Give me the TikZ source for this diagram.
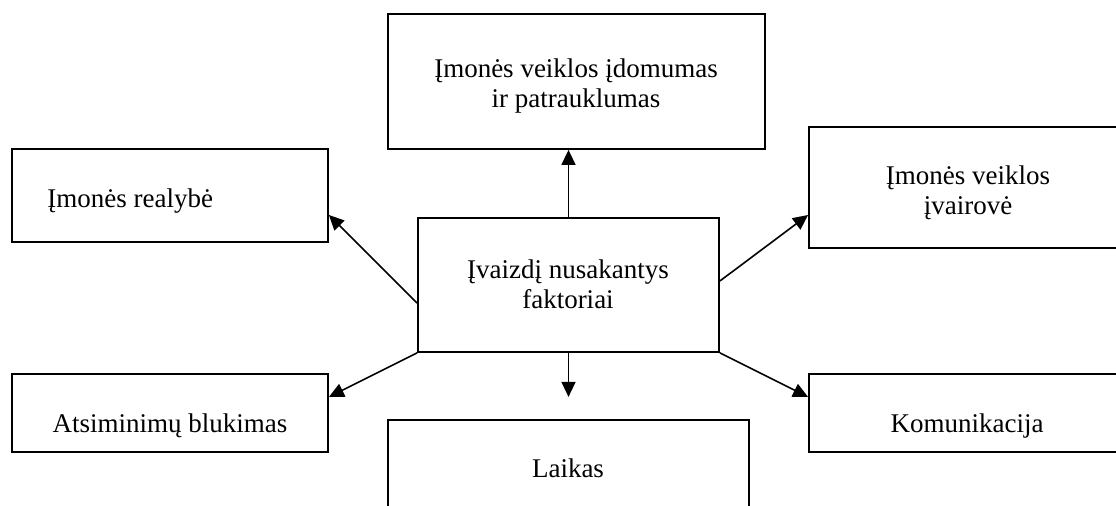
\documentclass[tikz,border=0pt]{standalone}
\usepackage{fontspec}
\setmainfont{Liberation Serif}
\usetikzlibrary{arrows.meta}

\begin{document}
\begin{tikzpicture}[x=0.5pt, y=-0.5pt,
    box/.style={draw, line width=0.9pt, inner sep=0pt},
    txt/.style={inner sep=0pt, align=center, font=\fontsize{13.5pt}{15pt}\selectfont},
    arr/.style={line width=0.8pt, -{Triangle[length=7.5pt, width=7pt]}}]
    \useasboundingbox (0,0) rectangle (1116,506);
    \clip (0,0) rectangle (1116,506);

    \node[box, minimum width=188.5pt, minimum height=67.5pt] (tbox) at (576.5,81.5) {};
    \node[box, minimum width=158pt, minimum height=46.5pt] (lbox) at (170,195.5) {};
    \node[box, minimum width=159pt, minimum height=60.5pt] (rbox) at (968,187.5) {};
    \node[box, minimum width=150.5pt, minimum height=67pt] (fbox) at (568.5,285) {};
    \node[box, minimum width=158pt, minimum height=39pt] (blbox) at (170,413) {};
    \node[box, minimum width=159pt, minimum height=39pt] (brbox) at (968,413) {};
    \node[box, minimum width=180.5pt, minimum height=50pt] (bbox) at (568.5,470) {};

    \node[txt] (ttext) at (576,86) {Įmonės veiklos įdomumas\\ir patrauklumas};
    \node[txt, anchor=base west] (ltext) at (47,208) {Įmonės realybė};
    \node[txt] (rtext) at (968,193) {Įmonės veiklos\\įvairovė};
    \node[txt] (ftext) at (568,284) {Įvaizdį nusakantys\\faktoriai};
    \node[txt, anchor=base] (bltext) at (170,433) {Atsiminimų blukimas};
    \node[txt, anchor=base] (brtext) at (967,433) {Komunikacija};
    \node[txt, anchor=base] (btext) at (568,478) {Laikas};

    \coordinate (down) at ([yshift=-22pt]fbox.south);

    \draw[arr] (fbox.north) -- (fbox.north |- tbox.south);
    \draw[arr] ([yshift=-9pt]fbox.west) -- ([yshift=-9.75pt]lbox.east);
    \draw[arr] ([yshift=2pt]fbox.east) -- ([yshift=-13.75pt]rbox.west);
    \draw[arr] (fbox.south west) -- ([yshift=8pt]blbox.east);
    \draw[arr] (fbox.south) -- (down);
    \draw[arr] (fbox.south east) -- ([yshift=8pt]brbox.west);
\end{tikzpicture}
\end{document}
